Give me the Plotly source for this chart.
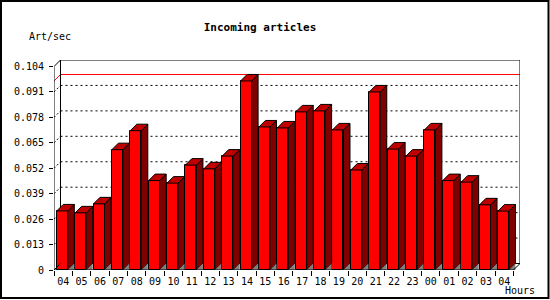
import plotly.graph_objects as go

hours = ["04", "05", "06", "07", "08", "09", "10", "11", "12", "13", "14", "15", "16",
         "17", "18", "19", "20", "21", "22", "23", "00", "01", "02", "03", "04"]
values = [0.0302, 0.0292, 0.0338, 0.0615, 0.0712, 0.0457, 0.0444, 0.0536, 0.0517,
          0.0582, 0.0966, 0.0731, 0.0726, 0.0808, 0.0813, 0.0716, 0.0511, 0.0910,
          0.0618, 0.0582, 0.0716, 0.0457, 0.0449, 0.0333, 0.0301]
y_ticks = [0, 0.013, 0.026, 0.039, 0.052, 0.065, 0.078, 0.091, 0.104]
y_tick_text = ["0", "0.013", "0.026", "0.039", "0.052", "0.065", "0.078", "0.091", "0.104"]

W, H = 550, 300
L, R, T, B = 54, 30, 60, 30
PW, PH = W - L - R, H - T - B
N = len(values)
DEPTH_PX = 6.5
ymax = y_ticks[-1]
dx = DEPTH_PX * (N) / (PW - DEPTH_PX)
xr_max = N + dx
dy = DEPTH_PX * ymax / (PH - DEPTH_PX)
yr_max = ymax + dy

BAR_OFF, BAR_W = 0.15, 0.6
MONO = "DejaVu Sans Mono"


def px_x(p):
    return (p - L) / PW


def px_y(p):
    return (H - B - p) / PH


fig = go.Figure()

# front faces
fig.add_trace(go.Bar(
    x=[i + BAR_OFF + BAR_W / 2 for i in range(N)], y=values, width=BAR_W,
    marker=dict(color="#ff0000", line=dict(color="black", width=1)),
    hoverinfo="skip", showlegend=False))

# shadow triangles, side and top faces
sx, sy, tx, ty, gx, gy = [], [], [], [], [], []
for i, v in enumerate(values):
    xl = i + BAR_OFF
    xr = xl + BAR_W
    sx += [xr, xr + dx, xr + dx, xr, xr, None]
    sy += [v, v + dy, dy, 0, v, None]
    tx += [xl, xl + dx, xr + dx, xr, xl, None]
    ty += [v, v + dy, v + dy, v, v, None]
    gx += [xr, xr + dx, xr + dx, xr, None]
    gy += [0, dy, 0, 0, None]

fig.add_trace(go.Scatter(x=sx, y=sy, mode="lines", fill="toself", fillcolor="#800000",
                         line=dict(color="black", width=1), hoverinfo="skip", showlegend=False))
fig.add_trace(go.Scatter(x=gx, y=gy, mode="lines", fill="toself", fillcolor="#808080",
                         line=dict(color="rgba(0,0,0,0)", width=0), hoverinfo="skip", showlegend=False))
fig.add_trace(go.Scatter(x=tx, y=ty, mode="lines", fill="toself", fillcolor="#c00000",
                         line=dict(color="black", width=1), hoverinfo="skip", showlegend=False))

shapes = []
# grid lines on back wall + left wall
for t in y_ticks[1:-1]:
    shapes.append(dict(type="line", xref="x", yref="y", x0=dx, x1=xr_max, y0=t + dy, y1=t + dy,
                       line=dict(color="black", width=1, dash="2px,3px"), layer="below"))
    shapes.append(dict(type="line", xref="x", yref="y", x0=0, x1=dx, y0=t, y1=t + dy,
                       line=dict(color="black", width=1, dash="2px,2px"), layer="below"))
# max line (red)
vmax = max(values)
shapes.append(dict(type="line", xref="x", yref="y", x0=dx, x1=xr_max, y0=vmax + dy, y1=vmax + dy,
                   line=dict(color="red", width=1), layer="below"))
shapes.append(dict(type="line", xref="x", yref="y", x0=0, x1=dx, y0=vmax, y1=vmax + dy,
                   line=dict(color="red", width=1), layer="below"))
# back wall frame
shapes.append(dict(type="path", xref="x", yref="y",
                   path=f"M {dx},{dy} L {dx},{yr_max} L {xr_max},{yr_max} L {xr_max},{dy} L {dx},{dy}",
                   line=dict(color="black", width=1), layer="below"))
# front axes and connecting edges
for (x0, y0, x1, y1) in [(0, 0, 0, ymax), (0, 0, N, 0), (0, ymax, dx, yr_max),
                         (N, 0, xr_max, dy), (0, 0, dx, dy)]:
    shapes.append(dict(type="line", xref="x", yref="y", x0=x0, y0=y0, x1=x1, y1=y1,
                       line=dict(color="black", width=1), layer="above"))
# outer border of the image
shapes.append(dict(type="rect", xref="paper", yref="paper",
                   x0=px_x(1), x1=px_x(548.5), y0=px_y(298), y1=px_y(1),
                   line=dict(color="black", width=2), layer="above"))

fig.update_layout(
    width=W, height=H,
    margin=dict(l=L, r=R, t=T, b=B, pad=0),
    paper_bgcolor="white", plot_bgcolor="white",
    shapes=shapes,
    bargap=0,
    title=dict(text="Incoming articles", x=260 / W, xanchor="center", y=1 - 27 / H, yanchor="middle",
               xref="container", yref="container",
               font=dict(family=MONO, size=11, color="black", weight="bold")),
    font=dict(family=MONO, size=10, color="black"),
    xaxis=dict(range=[0, xr_max], showgrid=False, zeroline=False, showline=False,
               tickmode="array", tickvals=[i + 0.5 for i in range(N)], ticktext=hours,
               ticks="", ticklen=0, ticklabelstandoff=4,
               minor=dict(tickmode="array", tickvals=list(range(N + 1)), ticks="outside",
                          ticklen=5, tickcolor="black", tickwidth=1, showgrid=False),
               tickfont=dict(family=MONO, size=10, color="black")),
    yaxis=dict(range=[0, yr_max], showgrid=False, zeroline=False, showline=False,
               tickmode="array", tickvals=y_ticks, ticktext=y_tick_text,
               ticks="outside", ticklen=4, tickcolor="black", tickwidth=1,
               ticklabelstandoff=3,
               tickfont=dict(family=MONO, size=10, color="black")),
    annotations=[
        dict(text="Art/sec", xref="paper", yref="paper", x=px_x(27), y=px_y(37),
             xanchor="left", yanchor="middle", showarrow=False,
             font=dict(family=MONO, size=10, color="black")),
        dict(text="Hours", xref="paper", yref="paper", x=px_x(503), y=px_y(290),
             xanchor="left", yanchor="middle", showarrow=False,
             font=dict(family=MONO, size=10, color="black")),
    ],
)

fig.write_html("out.html")
